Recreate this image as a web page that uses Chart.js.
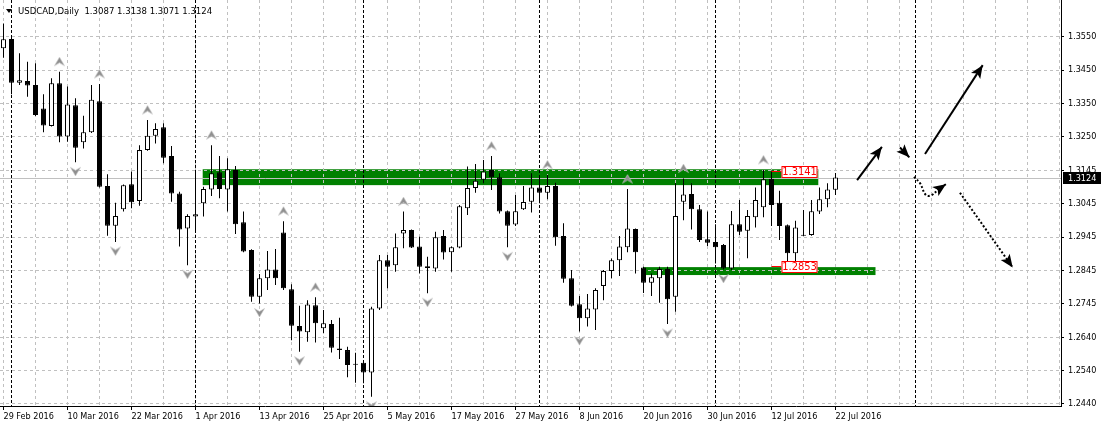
<!DOCTYPE html>
<html>
<head>
<meta charset="utf-8">
<title>USDCAD Daily</title>
<script src="https://cdn.jsdelivr.net/npm/chart.js@4.4.0/dist/chart.umd.min.js"></script>
<style>
  html, body { margin: 0; padding: 0; background: #fff; }
  #wrap { width: 1102px; height: 426px; }
</style>
</head>
<body>
<div id="wrap"><canvas id="chart" width="1102" height="426"></canvas></div>
<script>
// daily candles, 29 Feb 2016 .. 22 Jul 2016 (bar index 0..104)
const opens = [
  1.3515, 1.3543, 1.3411, 1.3416, 1.3404, 1.3333, 1.3280, 1.3409, 1.3248, 1.3343,
  1.3231, 1.3261, 1.3355, 1.3098, 1.2978, 1.3028, 1.3104, 1.3053, 1.3207, 1.3250,
  1.3276, 1.3189, 1.3076, 1.2970, 1.3006, 1.3046, 1.3088, 1.3140, 1.3088, 1.3147,
  1.2989, 1.2905, 1.2763, 1.2819, 1.2846, 1.2958, 1.2786, 1.2675, 1.2656, 1.2738,
  1.2668, 1.2681, 1.2607, 1.2602, 1.2560, 1.2564, 1.2534, 1.2728, 1.2874, 1.2859,
  1.2955, 1.2965, 1.2915, 1.2856, 1.2849, 1.2947, 1.2898, 1.2912, 1.3031, 1.3092,
  1.3117, 1.3147, 1.3125, 1.3022, 1.2982, 1.3028, 1.3051, 1.3094, 1.3078, 1.3098,
  1.2947, 1.2819, 1.2741, 1.2698, 1.2725, 1.2796, 1.2841, 1.2874, 1.2913, 1.2968,
  1.2852, 1.2806, 1.2819, 1.2847, 1.2763, 1.3051, 1.3074, 1.3028, 1.2937, 1.2929,
  1.2920, 1.2849, 1.2983, 1.2963, 1.3004, 1.3034, 1.3120, 1.3048, 1.2980, 1.2895,
  1.2948, 1.2950, 1.3021, 1.3058, 1.3087
];
const highs = [
  1.3590, 1.3555, 1.3500, 1.3474, 1.3470, 1.3376, 1.3424, 1.3444, 1.3399, 1.3364,
  1.3311, 1.3404, 1.3407, 1.3134, 1.3048, 1.3103, 1.3142, 1.3222, 1.3298, 1.3288,
  1.3288, 1.3219, 1.3081, 1.3013, 1.3147, 1.3096, 1.3222, 1.3189, 1.3182, 1.3159,
  1.3021, 1.2907, 1.2832, 1.2902, 1.2908, 1.2992, 1.2801, 1.2736, 1.2753, 1.2762,
  1.2723, 1.2693, 1.2700, 1.2612, 1.2594, 1.2572, 1.2733, 1.2890, 1.2890, 1.2955,
  1.3021, 1.2967, 1.2945, 1.2884, 1.2960, 1.2965, 1.2915, 1.3041, 1.3157, 1.3165,
  1.3177, 1.3189, 1.3137, 1.3024, 1.3071, 1.3098, 1.3137, 1.3126, 1.3132, 1.3108,
  1.2986, 1.2844, 1.2766, 1.2772, 1.2789, 1.2844, 1.2879, 1.2947, 1.3089, 1.2970,
  1.2854, 1.2834, 1.2854, 1.2854, 1.3107, 1.3121, 1.3107, 1.3041, 1.3021, 1.2983,
  1.2923, 1.3023, 1.3056, 1.3026, 1.3094, 1.3147, 1.3145, 1.3084, 1.2982, 1.2993,
  1.3026, 1.3056, 1.3094, 1.3107, 1.3138
];
const lows = [
  1.3486, 1.3376, 1.3404, 1.3368, 1.3310, 1.3261, 1.3278, 1.3231, 1.3232, 1.3170,
  1.3212, 1.3259, 1.3094, 1.2948, 1.2929, 1.3021, 1.3031, 1.3039, 1.3205, 1.3227,
  1.3167, 1.3051, 1.2915, 1.2859, 1.2965, 1.3006, 1.3068, 1.3061, 1.3021, 1.2953,
  1.2898, 1.2748, 1.2743, 1.2784, 1.2799, 1.2784, 1.2632, 1.2597, 1.2627, 1.2625,
  1.2653, 1.2595, 1.2575, 1.2520, 1.2503, 1.2502, 1.2461, 1.2723, 1.2789, 1.2839,
  1.2910, 1.2911, 1.2834, 1.2774, 1.2839, 1.2876, 1.2839, 1.2910, 1.3011, 1.3078,
  1.3107, 1.3086, 1.3015, 1.2913, 1.2977, 1.3026, 1.3018, 1.3046, 1.3058, 1.2918,
  1.2806, 1.2734, 1.2658, 1.2673, 1.2663, 1.2753, 1.2819, 1.2826, 1.2898, 1.2834,
  1.2775, 1.2766, 1.2745, 1.2681, 1.2718, 1.2995, 1.2967, 1.2929, 1.2917, 1.2864,
  1.2846, 1.2844, 1.2950, 1.2880, 1.2973, 1.3004, 1.2977, 1.2935, 1.2854, 1.2862,
  1.2947, 1.2948, 1.3014, 1.3034, 1.3071
];
const closes = [
  1.3542, 1.3411, 1.3418, 1.3402, 1.3313, 1.3281, 1.3409, 1.3248, 1.3345, 1.3214,
  1.3261, 1.3359, 1.3096, 1.2978, 1.3008, 1.3101, 1.3049, 1.3207, 1.3250, 1.3271,
  1.3184, 1.3076, 1.2967, 1.3008, 1.3013, 1.3089, 1.3137, 1.3089, 1.3149, 1.2983,
  1.2900, 1.2763, 1.2819, 1.2846, 1.2819, 1.2789, 1.2676, 1.2658, 1.2740, 1.2683,
  1.2683, 1.2609, 1.2602, 1.2557, 1.2558, 1.2534, 1.2728, 1.2874, 1.2854, 1.2913,
  1.2965, 1.2912, 1.2854, 1.2850, 1.2943, 1.2897, 1.2913, 1.3037, 1.3092, 1.3114,
  1.3142, 1.3125, 1.3021, 1.2978, 1.3022, 1.3050, 1.3094, 1.3078, 1.3098, 1.2943,
  1.2818, 1.2736, 1.2698, 1.2728, 1.2784, 1.2841, 1.2874, 1.2915, 1.2970, 1.2898,
  1.2806, 1.2822, 1.2847, 1.2756, 1.3008, 1.3073, 1.3028, 1.2935, 1.2927, 1.2913,
  1.2849, 1.2983, 1.2960, 1.3008, 1.3056, 1.3119, 1.3041, 1.2977, 1.2895, 1.2973,
  1.2950, 1.3022, 1.3058, 1.3088, 1.3124
];

// date labels, one every 8 bars
const dateLabels = [
  "29 Feb 2016", "10 Mar 2016", "22 Mar 2016", "1 Apr 2016", "13 Apr 2016",
  "25 Apr 2016", "5 May 2016", "17 May 2016", "27 May 2016", "8 Jun 2016",
  "20 Jun 2016", "30 Jun 2016", "12 Jul 2016", "22 Jul 2016"
];

// price scale ticks (MT4 rounds its labels)
const yTickValues = [1.3550, 1.3449, 1.3348, 1.3247, 1.3146, 1.3045, 1.2944, 1.2843, 1.2742, 1.2641, 1.2540, 1.2439];
const yTickLabels = ["1.3550", "1.3450", "1.3350", "1.3250", "1.3145", "1.3045", "1.2945", "1.2845", "1.2745", "1.2640", "1.2540", "1.2440"];

// fractals (bar indexes)
const fractalUp = [7, 12, 18, 26, 35, 39, 50, 61, 68, 78, 85, 95];
const fractalDown = [9, 14, 23, 32, 37, 46, 53, 63, 72, 83, 90];

// month separators (bar indexes)
const separators = [1, 24, 45, 67, 89, 114];

// support / resistance rectangles
const zoneStart = [24.9, 80];
const zoneEnd = [101.85, 109];
const zoneTop = [1.3149, 1.2853];
const zoneBottom = [1.3101, 1.2829];

// price labels on the zones
const priceLabels = [1.3141, 1.2853];
const priceLabelBar = 96;

// forecast arrows [bar, price]
const arrowA = [[106.7, 1.3116], [109.8, 1.3217]];
const arrowB = [[112.06, 1.3215], [113.23, 1.3185]];
const arrowC = [[115.19, 1.3195], [122.4, 1.3464]];
const arrowD = [[113.81, 1.3126], [114.56, 1.3107], [115.31, 1.3071], [116.03, 1.3071], [116.85, 1.3088], [117.81, 1.3104]];
const arrowE = [[119.56, 1.3078], [126.15, 1.2852]];

const lastPrice = closes[closes.length - 1];
const FONT = '"DejaVu Sans Condensed", "Liberation Sans", Arial, sans-serif';

// grey MT4-like fractal arrow as point style
function fractalMark(up) {
    const c = document.createElement("canvas");
    c.width = 11;
    c.height = 41;
    const g = c.getContext("2d");
    const cy = up ? 10.5 : 29.5;
    const d = up ? 1 : -1;
    g.beginPath();
    g.moveTo(5.5, cy - 4.5 * d);
    g.lineTo(10.5, cy + 4 * d);
    g.lineTo(5.5, cy + 1 * d);
    g.lineTo(0.5, cy + 4 * d);
    g.closePath();
    g.fillStyle = "#8f8f8f";
    g.fill();
    g.strokeStyle = "#c4c4c4";
    g.lineWidth = 0.6;
    g.stroke();
    return c;
}

function arrowSet(points, dotted, curved) {
    return {
        type: "line",
        data: points.map(p => ({ x: p[0], y: p[1] })),
        borderColor: "#000",
        borderWidth: 2,
        borderDash: dotted ? [2, 2] : [],
        pointRadius: 0,
        tension: curved ? 0.4 : 0,
        fill: false,
        arrowHead: true,
        order: 0,
    };
}

const overlay = {
    id: "overlay",
    beforeDraw(chart) {
        const { ctx, scales: { x, y } } = chart;
        ctx.save();
        ctx.fillStyle = "#008000";
        for (let i = 0; i < zoneStart.length; i++) {
            const x1 = x.getPixelForValue(zoneStart[i]);
            const x2 = x.getPixelForValue(zoneEnd[i]);
            const y1 = y.getPixelForValue(zoneTop[i]);
            const y2 = y.getPixelForValue(zoneBottom[i]);
            ctx.fillRect(x1, y1, x2 - x1, y2 - y1);
        }
        ctx.restore();
    },
    beforeDatasetsDraw(chart) {
        const { ctx, chartArea, scales: { x, y } } = chart;
        ctx.save();
        // month separators
        ctx.strokeStyle = "#000";
        ctx.lineWidth = 1;
        ctx.setLineDash([3, 2]);
        separators.forEach(s => {
            const px = x.getPixelForValue(s);
            ctx.beginPath();
            ctx.moveTo(px, chartArea.top);
            ctx.lineTo(px, chartArea.bottom);
            ctx.stroke();
        });
        // bid line
        ctx.setLineDash([]);
        ctx.strokeStyle = "#c0c0c0";
        const py = Math.round(y.getPixelForValue(lastPrice)) + 0.5;
        ctx.beginPath();
        ctx.moveTo(chartArea.left, py);
        ctx.lineTo(chartArea.right, py);
        ctx.stroke();
        ctx.restore();
    },
    afterDatasetsDraw(chart) {
        const { ctx, scales: { x, y } } = chart;
        ctx.save();
        // arrow heads
        chart.data.datasets.forEach((ds, di) => {
            if (!ds.arrowHead) return;
            const pts = chart.getDatasetMeta(di).data;
            const a = pts[pts.length - 2];
            const b = pts[pts.length - 1];
            const ang = Math.atan2(b.y - a.y, b.x - a.x);
            ctx.save();
            ctx.translate(b.x, b.y);
            ctx.rotate(ang);
            ctx.beginPath();
            ctx.moveTo(0, 0);
            ctx.lineTo(-13, -5.5);
            ctx.lineTo(-10, 0);
            ctx.lineTo(-13, 5.5);
            ctx.closePath();
            ctx.fillStyle = "#000";
            ctx.fill();
            ctx.restore();
        });
        // zone price labels
        const px = x.getPixelForValue(priceLabelBar);
        priceLabels.forEach(p => {
            const py = Math.round(y.getPixelForValue(p));
            ctx.strokeStyle = "#ff0000";
            ctx.lineWidth = 1;
            ctx.beginPath();
            ctx.moveTo(px, py - 0.5);
            ctx.lineTo(px + 10, py - 0.5);
            ctx.stroke();
            ctx.fillStyle = "#fff";
            ctx.fillRect(px + 10, py - 6, 36, 12);
            ctx.strokeRect(px + 10.5, py - 5.5, 35, 11);
            ctx.fillStyle = "#ff0000";
            ctx.font = "11px " + FONT;
            ctx.textAlign = "center";
            ctx.textBaseline = "middle";
            ctx.fillText(p.toFixed(4), px + 28, py + 0.5);
        });
        ctx.restore();
    },
    afterDraw(chart) {
        const { ctx, chartArea, scales: { y } } = chart;
        ctx.save();
        // header
        ctx.fillStyle = "#000";
        ctx.beginPath();
        ctx.moveTo(6, 9);
        ctx.lineTo(12, 9);
        ctx.lineTo(9, 13);
        ctx.closePath();
        ctx.fill();
        const n = closes.length - 1;
        ctx.font = "9.5px " + FONT;
        ctx.textBaseline = "alphabetic";
        ctx.fillText("USDCAD,Daily  " + [opens[n], highs[n], lows[n], closes[n]].map(v => v.toFixed(4)).join(" "), 18, 14);
        // current price box on the axis
        const py = Math.round(y.getPixelForValue(lastPrice));
        ctx.fillRect(chartArea.right + 2, py - 6, 38, 12);
        ctx.fillStyle = "#fff";
        ctx.font = "9px " + FONT;
        ctx.textBaseline = "middle";
        ctx.fillText(lastPrice.toFixed(4), chartArea.right + 7, py + 0.5);
        ctx.restore();
    },
};

const ctx = document.getElementById("chart").getContext("2d");

new Chart(ctx, {
    type: "bar",
    data: {
        datasets: [
            {
                label: "body",
                data: opens.map((o, i) => ({ x: i, y: [o, closes[i]] })),
                backgroundColor: opens.map((o, i) => (closes[i] >= o ? "#ffffff" : "#000000")),
                borderColor: "#000",
                borderWidth: 1,
                borderSkipped: false,
                grouped: false,
                maxBarThickness: 5,
                minBarLength: 1,
                inflateAmount: 0,
                order: 2,
            },
            {
                label: "wick",
                data: lows.map((l, i) => ({ x: i, y: [l, highs[i]] })),
                backgroundColor: "#000",
                borderWidth: 0,
                grouped: false,
                maxBarThickness: 1,
                inflateAmount: 0,
                order: 3,
            },
            {
                type: "line",
                label: "fractal up",
                data: fractalUp.map(i => ({ x: i, y: highs[i] })),
                showLine: false,
                pointStyle: fractalMark(true),
                order: 1,
            },
            {
                type: "line",
                label: "fractal down",
                data: fractalDown.map(i => ({ x: i, y: lows[i] })),
                showLine: false,
                pointStyle: fractalMark(false),
                order: 1,
            },
            arrowSet(arrowA, false, false),
            arrowSet(arrowB, false, false),
            arrowSet(arrowC, false, false),
            arrowSet(arrowD, true, true),
            arrowSet(arrowE, true, false),
        ],
    },
    options: {
        responsive: false,
        animation: false,
        devicePixelRatio: 1,
        layout: { padding: 0, autoPadding: false },
        plugins: {
            legend: { display: false },
            tooltip: { enabled: false },
        },
        scales: {
            x: {
                type: "linear",
                offset: false,
                min: -0.4375,
                max: 132.1875,
                afterBuildTicks: s => {
                    const t = [];
                    for (let v = 0; v <= 132; v += 4) t.push({ value: v });
                    s.ticks = t;
                },
                afterFit: s => {
                    s.height = 20;
                    s.paddingLeft = 0;
                    s.paddingRight = 0;
                },
                ticks: {
                    autoSkip: false,
                    maxRotation: 0,
                    align: "start",
                    padding: 1,
                    color: "#000",
                    font: { family: FONT, size: 9 },
                    callback: v => (v % 8 === 0 && v / 8 < dateLabels.length ? dateLabels[v / 8] : ""),
                },
                grid: {
                    offset: false,
                    color: "#c0c0c0",
                    tickLength: 4,
                    tickColor: c => (c.tick && c.tick.value % 8 === 0 && c.tick.value / 8 < dateLabels.length ? "#000" : "rgba(0,0,0,0)"),
                    tickBorderDash: [],
                },
                border: { display: true, color: "#000", width: 1, dash: [3, 3] },
            },
            y: {
                position: "right",
                min: 1.24329,
                max: 1.3661,
                afterBuildTicks: s => {
                    s.ticks = yTickValues.map(v => ({ value: v }));
                },
                afterFit: s => {
                    s.width = 41;
                    s.paddingTop = 0;
                    s.paddingBottom = 0;
                },
                ticks: {
                    padding: 4,
                    color: "#000",
                    font: { family: FONT, size: 9 },
                    callback: (v, i) => yTickLabels[i],
                },
                grid: {
                    color: "#c0c0c0",
                    tickLength: 3,
                    tickColor: "#000",
                    tickBorderDash: [],
                },
                border: { display: true, color: "#000", width: 1, dash: [3, 3] },
            },
        },
    },
    plugins: [overlay],
});
</script>
</body>
</html>
